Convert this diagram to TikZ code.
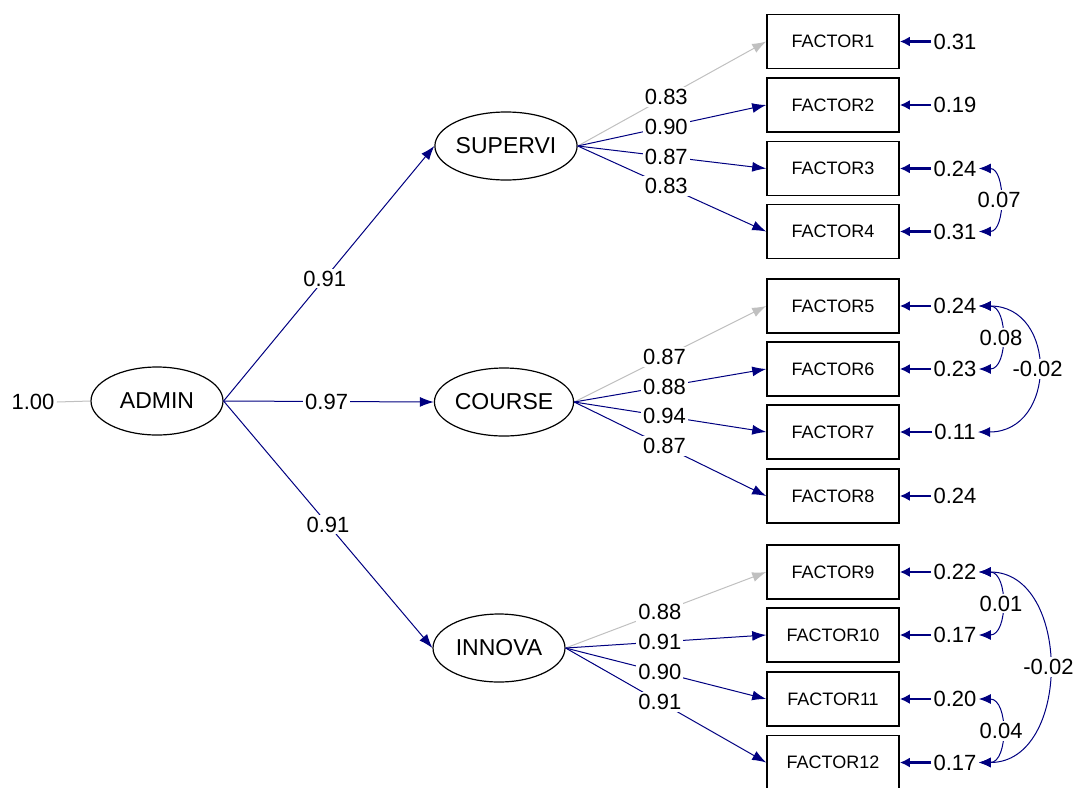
\documentclass[tikz,border=0pt]{standalone}
\usepackage{fontspec}
\setmainfont{Liberation Sans}
\usetikzlibrary{shapes.geometric,arrows.meta}
\definecolor{pathblue}{RGB}{0,0,128}
\definecolor{fixgray}{RGB}{192,192,192}
\tikzset{
  latent/.style={draw, ellipse, line width=0.6pt, minimum width=66pt, minimum height=34pt, inner sep=0pt, font=\fontsize{11.5}{13}\selectfont},
  obs/.style={draw, rectangle, line width=0.8pt, minimum width=66pt, minimum height=27pt, inner sep=0pt, font=\fontsize{9}{10}\selectfont},
  val/.style={inner sep=1pt, text=black, font=\fontsize{11}{13}\selectfont},
  lbl/.style={val, fill=white},
  load/.style={pathblue, line width=0.5pt, -{Latex[length=7pt,width=5pt]}},
  fixed/.style={fixgray, line width=0.5pt, -{Latex[length=7pt,width=5pt]}},
  erra/.style={pathblue, line width=1.2pt, -{Latex[length=5pt,width=5pt]}},
  cov/.style={pathblue, line width=0.5pt, {Latex[length=6pt,width=5pt]}-{Latex[length=6pt,width=5pt]}}
}
\begin{document}
\begin{tikzpicture}[x=0.5pt, y=-0.5pt]
\useasboundingbox (0,0) rectangle (1079,787);
\node[latent] (adm) at (157,401) {ADMIN};
\node[latent] (sup) at (506,146) {SUPERVI};
\node[latent] (cou) at (504,402) {COURSE};
\node[latent] (inn) at (499,648) {INNOVA};
\node[val] (one) at (33,402) {1.00};
\draw[fixgray, line width=0.5pt] (one.east) -- (adm.west);
\draw[load] (adm.east) -- node[lbl, pos=0.48] {0.91} (sup.west);
\draw[load] (adm.east) -- node[lbl, pos=0.49] {0.97} (cou.west);
\draw[load] (adm.east) -- node[lbl, pos=0.5] {0.91} (inn.west);
\node[obs] (f1) at (833,41.5) {FACTOR1};
\node[obs] (f2) at (833,105) {FACTOR2};
\node[obs] (f3) at (833,168.5) {FACTOR3};
\node[obs] (f4) at (833,231.5) {FACTOR4};
\node[obs] (f5) at (833,306) {FACTOR5};
\node[obs] (f6) at (833,369) {FACTOR6};
\node[obs] (f7) at (833,432) {FACTOR7};
\node[obs] (f8) at (833,496) {FACTOR8};
\node[obs] (f9) at (833,572) {FACTOR9};
\node[obs] (f10) at (833,635) {FACTOR10};
\node[obs] (f11) at (833,699) {FACTOR11};
\node[obs] (f12) at (833,762.5) {FACTOR12};
\draw[fixed] (sup.east) -- node[lbl, pos=0.47] {0.83} (f1.west);
\draw[load] (sup.east) -- node[lbl, pos=0.47] {0.90} (f2.west);
\draw[load] (sup.east) -- node[lbl, pos=0.47] {0.87} (f3.west);
\draw[load] (sup.east) -- node[lbl, pos=0.47] {0.83} (f4.west);
\draw[fixed] (cou.east) -- node[lbl, pos=0.47] {0.87} (f5.west);
\draw[load] (cou.east) -- node[lbl, pos=0.47] {0.88} (f6.west);
\draw[load] (cou.east) -- node[lbl, pos=0.47] {0.94} (f7.west);
\draw[load] (cou.east) -- node[lbl, pos=0.47] {0.87} (f8.west);
\draw[fixed] (inn.east) -- node[lbl, pos=0.47] {0.88} (f9.west);
\draw[load] (inn.east) -- node[lbl, pos=0.47] {0.91} (f10.west);
\draw[load] (inn.east) -- node[lbl, pos=0.47] {0.90} (f11.west);
\draw[load] (inn.east) -- node[lbl, pos=0.47] {0.91} (f12.west);
\node[val] (e1) at (955,41.5) {0.31};
\node[val] (e2) at (955,105) {0.19};
\node[val] (e3) at (955,168.5) {0.24};
\node[val] (e4) at (955,231.5) {0.31};
\node[val] (e5) at (955,306) {0.24};
\node[val] (e6) at (955,369) {0.23};
\node[val] (e7) at (955,432) {0.11};
\node[val] (e8) at (955,496) {0.24};
\node[val] (e9) at (955,572) {0.22};
\node[val] (e10) at (955,635) {0.17};
\node[val] (e11) at (955,699) {0.20};
\node[val] (e12) at (955,762.5) {0.17};
\draw[erra] (e1.west) -- (f1.east);
\draw[erra] (e2.west) -- (f2.east);
\draw[erra] (e3.west) -- (f3.east);
\draw[erra] (e4.west) -- (f4.east);
\draw[erra] (e5.west) -- (f5.east);
\draw[erra] (e6.west) -- (f6.east);
\draw[erra] (e7.west) -- (f7.east);
\draw[erra] (e8.west) -- (f8.east);
\draw[erra] (e9.west) -- (f9.east);
\draw[erra] (e10.west) -- (f10.east);
\draw[erra] (e11.west) -- (f11.east);
\draw[erra] (e12.west) -- (f12.east);
\draw[cov] (e3.east) to[out=0, in=0, looseness=1.1] node[lbl] {0.07} (e4.east);
\draw[cov] (e5.east) to[out=0, in=0, looseness=1.2] node[lbl] {0.08} (e6.east);
\draw[cov] (e5.east) to[out=0, in=0, looseness=1.6] node[lbl] {-0.02} (e7.east);
\draw[cov] (e9.east) to[out=0, in=0, looseness=1.2] node[lbl] {0.01} (e10.east);
\draw[cov] (e11.east) to[out=0, in=0, looseness=1.2] node[lbl] {0.04} (e12.east);
\draw[cov] (e9.east) to[out=0, in=0, looseness=1.25] node[lbl] {-0.02} (e12.east);
\end{tikzpicture}
\end{document}
